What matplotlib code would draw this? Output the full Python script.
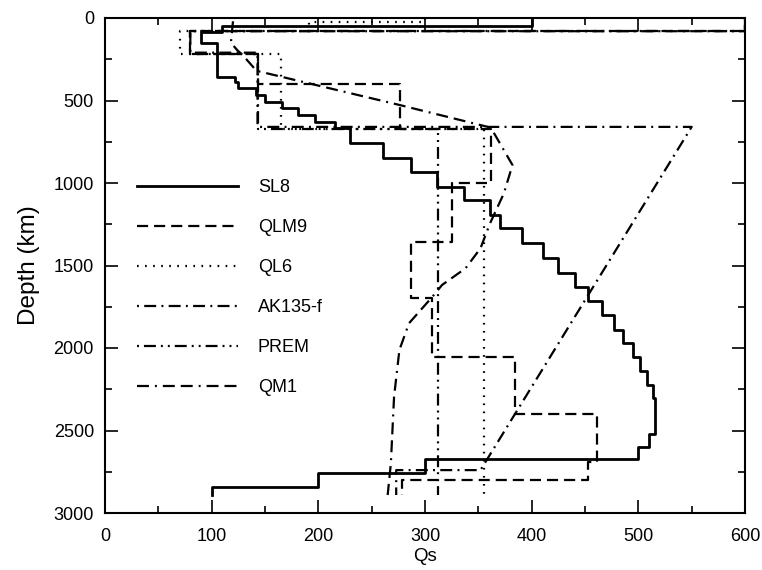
import numpy as np
import matplotlib
matplotlib.use("Agg")
import matplotlib.pyplot as plt
from matplotlib.ticker import MultipleLocator

plt.rcParams['font.family'] = ['Liberation Sans', 'DejaVu Sans']
plt.rcParams['lines.scale_dashes'] = False

CMB = 2891

# ---- data: layer tops (km) and Qs in each layer (step models) ----
sl8_top = [0, 48, 83, 150, 355, 390, 426, 467, 507, 547, 588, 628, 668, 759, 850, 931,
           1022, 1103, 1194, 1275, 1366, 1456, 1543, 1628, 1713, 1800, 1891, 1972,
           2057, 2142, 2227, 2300, 2520, 2600, 2673, 2756, 2840]
sl8_q = [400, 110, 90, 105, 122, 125, 142, 150, 166, 181, 197, 216, 230, 261, 287, 311,
         337, 361, 370, 391, 411, 425, 441, 453, 466, 477, 486, 495,
         502, 508, 514, 516, 510, 500, 300, 200, 100]

qlm9_top = [0, 80, 220, 400, 670, 1002, 1356, 1699, 2053, 2400, 2689, 2800]
qlm9_q = [600, 80, 143, 277, 362, 325, 287, 307, 384, 461, 453, 278]

ql6_top = [0, 24, 80, 220, 670]
ql6_q = [300, 191, 70, 165, 355]

prem_top = [0, 80, 220, 670]
prem_q = [600, 80, 143, 312]

# AK135-f: polyline (Qs, depth)
ak_q = [600, 600, 80, 80, 143, 143, 550, 352, 273, 273]
ak_d = [0, 80, 80, 210, 210, 660, 660, 2740, 2740, 2891]

# QM1: polyline (Qs, depth)
qm1_q = [120, 118, 124, 129, 142, 276, 359, 363, 382, 374, 361, 352, 338, 316, 307,
         285, 276, 271, 268, 265]
qm1_d = [20, 150, 195, 224, 320, 527, 660, 679, 891, 1062, 1244, 1396, 1517, 1618,
         1689, 1850, 2012, 2295, 2699, 2891]

labels = ['SL8', 'QLM9', 'QL6', 'AK135-f', 'PREM', 'QM1']


def steps(tops, qs, bottom):
    q, d = [], []
    for i, v in enumerate(qs):
        b = tops[i + 1] if i + 1 < len(tops) else bottom
        q += [v, v]
        d += [tops[i], b]
    return q, d


fig = plt.figure(figsize=(7.62, 5.70), dpi=100)
ax = fig.add_axes([105 / 762, 1 - 513 / 570, 640 / 762, 495 / 570])

lw = 1.6
q, d = steps(sl8_top, sl8_q, CMB)
ax.plot(q, d, color='black', lw=2.0, ls='-', label=labels[0])
q, d = steps(qlm9_top, qlm9_q, CMB)
ax.plot(q, d, color='black', lw=lw, ls=(0, (8, 4.3)), label=labels[1])
q, d = steps(ql6_top, ql6_q, CMB)
ax.plot(q, d, color='black', lw=lw, ls=(0, (1.2, 4.6)), label=labels[2])
ax.plot(ak_q, ak_d, color='black', lw=lw, ls=(0, (1.4, 3.8, 8.6, 3.8)), label=labels[3])
q, d = steps(prem_top, prem_q, CMB)
ax.plot(q, d, color='black', lw=lw, ls=(0, (1.4, 3.6, 8.6, 3.6, 1.4, 3.6)), label=labels[4])
ax.plot(qm1_q, qm1_d, color='black', lw=lw,
        ls=(0, (8.6, 4.3, 1.4, 4.3, 8.6, 4.3)), label=labels[5])

ax.set_xlim(0, 600)
ax.set_ylim(3000, 0)
ax.xaxis.set_major_locator(MultipleLocator(100))
ax.xaxis.set_minor_locator(MultipleLocator(50))
ax.yaxis.set_major_locator(MultipleLocator(500))
ax.yaxis.set_minor_locator(MultipleLocator(250))
ax.tick_params(which='both', direction='in', top=True, right=True, width=1.2,
               labelsize=13, color='black')
ax.tick_params(which='major', length=9.5)
ax.tick_params(which='minor', length=5)
ax.tick_params(axis='x', which='major', pad=11)
ax.tick_params(axis='y', which='major', pad=8)
for s in ax.spines.values():
    s.set_linewidth(1.5)

ax.set_xlabel('Qs', fontsize=13.5, labelpad=2)
ax.set_ylabel('Depth (km)', fontsize=17.5, labelpad=10)

leg = ax.legend(loc='upper left', bbox_to_anchor=(0.05, 0.674), frameon=False,
                fontsize=13, handlelength=5.6, handletextpad=1.1,
                labelspacing=1.27, borderpad=0, borderaxespad=0)

fig.savefig('out.png', dpi=100)
